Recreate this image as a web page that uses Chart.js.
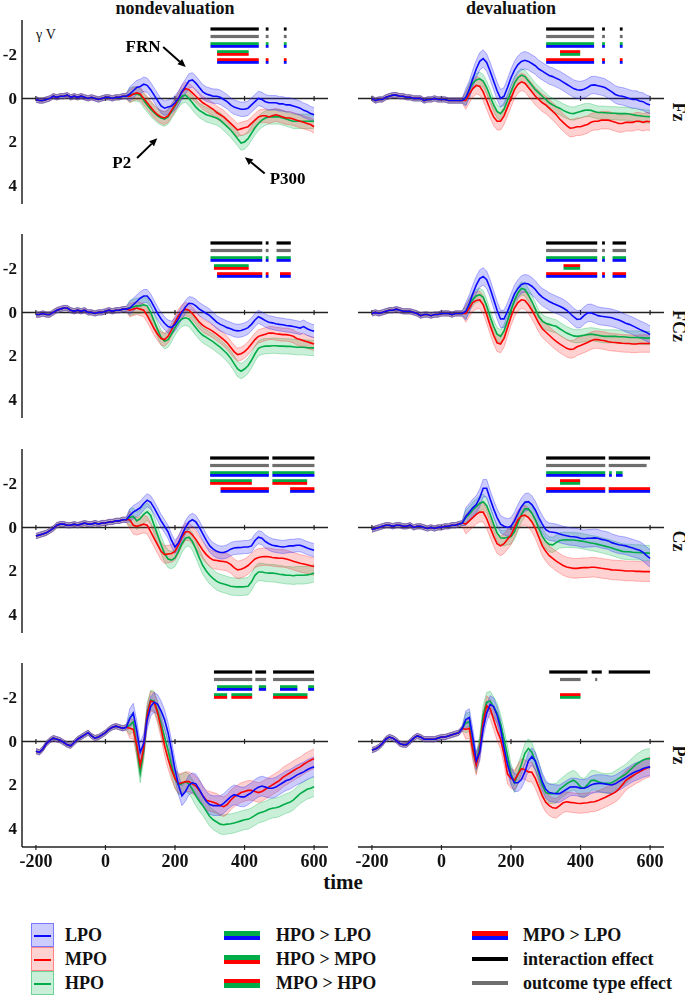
<!DOCTYPE html>
<html>
<head>
<meta charset="utf-8">
<script src="https://cdn.jsdelivr.net/npm/chart.js@4.4.1/dist/chart.umd.min.js"></script>
<style>
  body { margin: 0; background: #fff; }
  #page { position: relative; width: 685px; height: 996px; overflow: hidden;
          font-family: "Liberation Serif", "DejaVu Serif", serif; color: #111; }
  canvas { position: absolute; }
  .lbl { position: absolute; transform: translate(-50%, -50%); white-space: nowrap; font-weight: bold; }
  .rot { transform: translate(-50%, -50%) rotate(90deg); }
  .box { position: absolute; width: 23px; height: 24px; box-sizing: border-box; }
  .box span { position: absolute; left: 2px; right: 2px; top: 11px; height: 2px; }
  .sw { position: absolute; width: 36px; }
  .lt { position: absolute; font-weight: bold; font-size: 18px; transform: translateY(-50%); white-space: nowrap; }
</style>
</head>
<body>
<div id="page">
  <div class="lbl" style="left:175px;top:8px;font-size:18px">nondevaluation</div>
  <div class="lbl" style="left:511px;top:8px;font-size:18px">devaluation</div>
  <div class="lbl" style="left:46px;top:35px;font-size:14px;font-weight:normal">γ V</div>
  <div class="lbl" style="left:343px;top:882px;font-size:21px">time</div>
</div>
<script>
// time axis (ms), 10 ms steps
const times = [-200,-190,-180,-170,-160,-150,-140,-130,-120,-110,
  -100,-90,-80,-70,-60,-50,-40,-30,-20,-10,
  0,10,20,30,40,50,60,70,80,90,
  100,110,120,130,140,150,160,170,180,190,
  200,210,220,230,240,250,260,270,280,290,
  300,310,320,330,340,350,360,370,380,390,
  400,410,420,430,440,450,460,470,480,490,
  500,510,520,530,540,550,560,570,580,590,600];
const conditions = ['LPO', 'MPO', 'HPO'];
const electrodes = ['Fz', 'FCz', 'Cz', 'Pz'];
const xTicks = [-200, 0, 200, 400, 600];
const yTicks = [-2, 0, 2, 4];
const baselineSE = 0.12;

// ---- Fz ----
const fzNonPre = [0.05,0.1,0.1,0.05,0.0,-0.1,-0.05,-0.1,-0.1,-0.15, -0.05,-0.1,-0.05,-0.1,-0.05,0.0,-0.05,0.0,0.05,0.0, -0.05,-0.05,0.0,-0.05,-0.05,-0.1,-0.1];
const fzNonLPO = [-0.2,-0.35,-0.5,
  -0.55,-0.65,-0.6,-0.4,-0.15,0.1,0.35,0.45,0.4,0.35,
  0.2,0.0,-0.3,-0.55,-0.8,-0.85,-0.7,-0.5,-0.3,-0.2,
  -0.15,-0.1,-0.1,-0.05,0.05,0.15,0.3,0.4,0.45,0.5,
  0.5,0.45,0.3,0.15,0.0,0.05,0.15,0.2,0.2,0.2,
  0.25,0.25,0.3,0.3,0.35,0.4,0.45,0.55,0.6,0.7, 0.75];
const fzNonMPO = [-0.1,-0.2,-0.25,
  -0.2,0.0,0.2,0.4,0.6,0.75,0.85,0.9,0.8,0.55,
  0.3,0.0,-0.3,-0.45,-0.4,-0.25,-0.1,0.05,0.2,0.3,
  0.4,0.5,0.65,0.75,0.85,1.0,1.15,1.3,1.45,1.4,
  1.35,1.3,1.15,1.0,0.85,0.8,0.8,0.85,0.8,0.75,
  0.8,0.85,0.9,0.9,0.95,1.0,1.05,1.1,1.15,1.2, 1.3];
const fzNonHPO = [-0.15,-0.2,-0.2,
  -0.15,0.1,0.3,0.5,0.65,0.8,0.9,0.95,0.85,0.6,
  0.35,0.1,-0.1,-0.15,0.0,0.2,0.4,0.55,0.65,0.75,
  0.8,0.85,0.9,1.0,1.15,1.3,1.45,1.65,1.85,2.05,
  2.0,1.85,1.6,1.35,1.15,1.0,0.9,0.85,0.85,0.85,
  0.85,0.9,0.95,1.0,1.05,1.05,1.05,1.05,1.05,1.05, 1.05];
const fzNonSE = [0.33, 0.3, 0.33];

const fzDevPre = [0.0,0.1,0.05,0.05,-0.05,-0.1,-0.15,-0.15,-0.1,-0.1, -0.05,-0.05,0.0,0.0,0.0,0.1,0.05,0.05,0.0,0.05, 0.05,0.05,0.1,0.1,0.1,0.1,0.1];
const fzDevLPO = [-0.05,-0.4,-0.9,
  -1.35,-1.7,-1.83,-1.65,-1.25,-0.8,-0.35,0.0,-0.1,-0.5,
  -0.95,-1.3,-1.55,-1.7,-1.75,-1.7,-1.6,-1.5,-1.35,-1.25,
  -1.15,-1.05,-1.0,-0.92,-0.85,-0.75,-0.65,-0.55,-0.45,-0.4,
  -0.38,-0.42,-0.5,-0.6,-0.62,-0.58,-0.55,-0.5,-0.4,-0.3,
  -0.18,-0.12,-0.1,-0.05,0.0,0.05,0.05,0.12,0.15,0.25, 0.3];
const fzDevMPO = [0.1,-0.2,-0.45,
  -0.6,-0.55,-0.3,0.1,0.5,0.85,1.05,1.05,0.8,0.4,
  0.0,-0.4,-0.65,-0.76,-0.7,-0.5,-0.3,-0.1,0.05,0.2,
  0.3,0.45,0.6,0.75,0.95,1.1,1.25,1.37,1.35,1.3,
  1.3,1.25,1.2,1.1,1.05,1.05,1.0,1.0,1.0,1.05,
  1.1,1.15,1.15,1.1,1.1,1.1,1.05,1.05,1.1,1.05, 1.07];
const fzDevHPO = [0.0,-0.4,-0.7,
  -0.85,-0.9,-0.8,-0.5,-0.1,0.3,0.6,0.7,0.5,0.1,
  -0.3,-0.7,-0.95,-1.07,-1.0,-0.8,-0.6,-0.4,-0.25,-0.1,
  0.05,0.2,0.3,0.38,0.45,0.55,0.62,0.68,0.7,0.65,
  0.6,0.55,0.53,0.55,0.6,0.65,0.65,0.66,0.67,0.68,
  0.68,0.7,0.7,0.7,0.72,0.75,0.78,0.8,0.82,0.83, 0.84];
const fzDevSE = [0.4, 0.4, 0.3];

// ---- FCz ----
const fczNonPre = [0.1,0.1,0.05,0.1,0.1,0.0,-0.1,-0.15,-0.2,-0.2, -0.1,-0.05,-0.1,-0.05,-0.1,0.0,0.0,0.05,0.0,0.0, -0.05,-0.1,-0.05,-0.1,-0.1,-0.15,-0.15];
const fczNonLPO = [-0.2,-0.35,-0.5,
  -0.65,-0.75,-0.75,-0.55,-0.25,0.05,0.3,0.5,0.65,0.7,
  0.55,0.3,0.0,-0.25,-0.42,-0.4,-0.3,-0.15,-0.05,0.05,
  0.15,0.3,0.45,0.55,0.62,0.7,0.75,0.82,0.85,0.83,
  0.78,0.7,0.55,0.35,0.2,0.28,0.38,0.45,0.48,0.52,
  0.55,0.57,0.6,0.62,0.65,0.68,0.72,0.65,0.75,0.82, 0.87];
const fczNonMPO = [-0.1,-0.15,-0.2,
  -0.15,-0.1,0.15,0.45,0.75,1.0,1.2,1.25,1.1,0.8,
  0.45,0.15,-0.05,-0.15,-0.1,0.05,0.25,0.45,0.6,0.7,
  0.78,0.88,1.0,1.12,1.25,1.4,1.6,1.8,1.94,1.9,
  1.8,1.65,1.45,1.25,1.1,1.05,1.0,0.95,0.95,0.98,
  1.0,1.02,1.02,1.05,1.1,1.2,1.25,1.3,1.35,1.4, 1.45];
const fczNonHPO = [-0.2,-0.25,-0.3,
  -0.3,-0.35,-0.3,0.0,0.4,0.8,1.15,1.33,1.25,1.0,
  0.7,0.45,0.3,0.25,0.3,0.5,0.7,0.9,1.05,1.15,
  1.25,1.35,1.48,1.6,1.75,1.9,2.1,2.35,2.6,2.7,
  2.6,2.45,2.2,1.9,1.65,1.58,1.55,1.55,1.53,1.53,
  1.55,1.55,1.56,1.56,1.58,1.6,1.6,1.6,1.62,1.63, 1.63];
const fczNonSE = [0.3, 0.3, 0.35];

const fczDevPre = [0.05,0.0,0.05,0.0,-0.05,-0.1,-0.1,-0.15,-0.1,-0.05, -0.05,-0.05,0.0,0.05,0.15,0.1,0.1,0.15,0.1,0.1, 0.05,0.05,0.05,0.1,0.05,0.05,0.05];
const fczDevLPO = [-0.05,-0.4,-0.85,
  -1.25,-1.55,-1.65,-1.5,-1.1,-0.6,-0.1,0.3,0.3,-0.05,
  -0.45,-0.85,-1.1,-1.28,-1.34,-1.3,-1.2,-1.05,-0.85,-0.7,
  -0.6,-0.5,-0.42,-0.35,-0.28,-0.2,-0.1,0.05,0.2,0.32,
  0.3,0.15,0.03,0.02,0.08,0.15,0.18,0.2,0.22,0.25,
  0.3,0.35,0.42,0.5,0.55,0.62,0.7,0.78,0.85,0.92, 1.02];
const fczDevMPO = [0.05,-0.2,-0.45,
  -0.55,-0.58,-0.35,0.1,0.6,1.05,1.4,1.45,1.2,0.7,
  0.2,-0.2,-0.45,-0.58,-0.55,-0.35,-0.1,0.2,0.5,0.75,
  0.9,1.05,1.2,1.33,1.45,1.55,1.65,1.7,1.68,1.58,
  1.52,1.45,1.38,1.3,1.25,1.25,1.28,1.3,1.35,1.37,
  1.38,1.4,1.42,1.43,1.43,1.45,1.45,1.43,1.43,1.43, 1.43];
const fczDevHPO = [0.0,-0.35,-0.6,
  -0.75,-0.81,-0.7,-0.3,0.2,0.65,1.0,1.1,0.85,0.4,
  -0.1,-0.55,-0.9,-1.1,-1.05,-0.8,-0.5,-0.15,0.2,0.4,
  0.5,0.55,0.6,0.64,0.75,0.85,0.95,1.02,1.08,1.1,
  1.08,1.05,1.02,1.0,1.02,1.05,1.08,1.1,1.1,1.1,
  1.1,1.12,1.12,1.13,1.15,1.15,1.15,1.16,1.17,1.18, 1.18];
const fczDevSE = [0.4, 0.4, 0.3];

// ---- Cz ----
const czNonPre = [0.4,0.35,0.3,0.25,0.15,0.05,-0.1,-0.15,-0.15,-0.1, -0.1,-0.15,-0.1,-0.15,-0.2,-0.15,-0.15,-0.2,-0.15,-0.2, -0.2,-0.25,-0.25,-0.3,-0.3,-0.35,-0.35];
const czNonLPO = [-0.55,-0.7,-0.8,
  -0.9,-1.1,-1.25,-1.15,-0.9,-0.6,-0.3,-0.05,0.2,0.6,
  0.9,0.7,0.35,0.0,-0.25,-0.35,-0.25,0.0,0.3,0.6,
  0.85,1.0,1.1,1.15,1.15,1.1,1.0,0.95,0.93,0.92,
  0.9,0.9,0.85,0.6,0.45,0.5,0.65,0.75,0.82,0.85,
  0.88,0.9,0.88,0.85,0.85,0.82,0.82,0.88,0.95,1.0, 1.05];
const czNonMPO = [-0.35,-0.1,-0.05,
  -0.1,-0.15,-0.1,0.2,0.5,0.8,1.1,1.25,1.22,1.2,
  1.1,0.8,0.45,0.2,0.2,0.35,0.55,0.8,1.05,1.25,
  1.4,1.5,1.52,1.55,1.57,1.6,1.7,1.85,1.95,1.92,
  1.85,1.75,1.6,1.45,1.38,1.35,1.34,1.35,1.38,1.4,
  1.42,1.42,1.45,1.5,1.55,1.6,1.65,1.68,1.72,1.76, 1.8];
const czNonHPO = [-0.45,-0.5,-0.3,
  -0.4,-0.6,-0.72,-0.55,-0.1,0.35,0.8,1.2,1.45,1.5,
  1.4,1.1,0.75,0.5,0.45,0.65,1.0,1.4,1.75,2.0,
  2.2,2.35,2.48,2.55,2.6,2.65,2.7,2.72,2.73,2.73,
  2.72,2.7,2.5,2.2,2.05,2.05,2.08,2.1,2.1,2.12,
  2.15,2.17,2.2,2.2,2.22,2.2,2.2,2.2,2.18,2.15, 2.1];
const czNonSE = [0.3, 0.4, 0.4];

const czDevPre = [0.1,0.05,0.0,-0.05,-0.1,-0.1,-0.05,-0.1,-0.1,-0.05, -0.05,-0.1,0.0,-0.05,-0.05,0.0,0.05,0.0,0.05,0.0, 0.0,-0.05,-0.05,-0.1,-0.1,-0.15,-0.2];
const czDevLPO = [-0.5,-0.7,-0.9,
  -1.05,-1.35,-1.8,-1.8,-1.3,-0.85,-0.45,-0.15,-0.05,0.0,
  -0.05,-0.3,-0.65,-0.95,-1.15,-1.18,-1.05,-0.8,-0.45,-0.15,
  0.1,0.2,0.22,0.25,0.3,0.35,0.38,0.42,0.43,0.45,
  0.5,0.52,0.5,0.5,0.48,0.5,0.55,0.58,0.62,0.7,
  0.75,0.8,0.82,0.85,0.9,0.95,1.0,1.05,1.15,1.3, 1.42];
const czDevMPO = [-0.15,-0.3,-0.45,
  -0.6,-0.7,-0.7,-0.4,0.0,0.4,0.75,0.85,0.75,0.55,
  0.35,0.0,-0.35,-0.52,-0.56,-0.45,-0.25,0.05,0.45,0.85,
  1.1,1.3,1.42,1.55,1.65,1.75,1.82,1.85,1.88,1.88,
  1.86,1.85,1.85,1.83,1.83,1.85,1.88,1.9,1.92,1.95,
  1.96,1.97,1.98,2.0,2.0,2.0,2.02,2.02,2.03,2.03, 2.03];
const czDevHPO = [-0.45,-0.6,-0.8,
  -0.95,-1.1,-1.18,-1.0,-0.6,-0.15,0.25,0.48,0.5,0.45,
  0.42,0.2,-0.2,-0.6,-0.85,-0.85,-0.65,-0.35,0.05,0.4,
  0.65,0.78,0.8,0.7,0.6,0.58,0.57,0.58,0.58,0.6,
  0.62,0.65,0.68,0.72,0.74,0.78,0.82,0.86,0.9,0.95,
  1.0,1.05,1.1,1.12,1.12,1.14,1.15,1.15,1.17,1.18, 1.19];
const czDevSE = [0.4, 0.45, 0.35];

// ---- Pz ----
const pzNonPre = [0.45,0.5,0.35,0.1,-0.05,-0.15,-0.1,-0.05,0.05,0.15, 0.2,0.05,-0.1,-0.2,-0.3,-0.4,-0.25,-0.15,-0.2,-0.3, -0.4,-0.55,-0.65,-0.7,-0.65,-0.6,-0.65];
const pzNonLPO = [-1.05,-1.3,-0.5,
  0.5,0.1,-1.0,-1.6,-1.8,-1.7,-1.4,-1.0,-0.4,0.4,
  1.3,2.0,2.5,2.3,2.0,1.9,1.95,2.2,2.5,2.75,
  2.9,2.95,2.95,2.95,2.85,2.7,2.55,2.45,2.5,2.55,
  2.55,2.45,2.35,2.2,2.1,2.05,2.1,2.15,2.15,2.1,
  2.0,1.9,1.8,1.75,1.65,1.55,1.47,1.4,1.3,1.22, 1.17];
const pzNonMPO = [-0.6,-0.55,0.2,
  1.1,0.3,-1.2,-1.85,-1.8,-1.3,-0.6,0.2,0.8,1.3,
  1.7,1.95,1.9,1.85,1.85,1.95,2.05,2.25,2.5,2.7,
  2.75,2.8,2.85,2.95,3.0,2.9,2.7,2.55,2.45,2.35,
  2.3,2.25,2.25,2.3,2.35,2.3,2.2,2.1,2.0,1.9,
  1.8,1.65,1.55,1.45,1.35,1.25,1.17,1.05,0.95,0.87, 0.79];
const pzNonHPO = [-0.75,-0.9,0.3,
  1.45,0.4,-1.3,-1.9,-1.85,-1.4,-0.8,-0.2,0.4,1.1,
  1.7,2.0,1.95,1.85,1.95,2.2,2.5,2.75,2.95,3.2,
  3.45,3.6,3.7,3.8,3.83,3.8,3.78,3.75,3.7,3.65,
  3.6,3.58,3.5,3.4,3.3,3.25,3.2,3.12,3.07,3.05,
  3.0,2.92,2.85,2.8,2.7,2.55,2.4,2.3,2.2,2.15, 2.08];
const pzNonSE = [0.45, 0.45, 0.45];

const pzDevPre = [0.4,0.35,0.25,0.1,-0.1,-0.2,-0.15,-0.05,0.1,0.15, 0.15,0.0,-0.15,-0.25,-0.2,-0.1,-0.1,-0.1,-0.1,-0.15, -0.2,-0.2,-0.25,-0.3,-0.35,-0.4,-0.6];
const pzDevLPO = [-1.0,-1.1,-0.2,
  0.9,0.5,-0.6,-1.3,-1.7,-1.6,-1.2,-0.6,0.3,1.05,
  1.6,1.9,1.9,1.75,1.4,0.9,0.7,0.9,1.35,1.85,
  2.2,2.35,2.38,2.4,2.4,2.3,2.2,2.1,2.08,2.1,
  2.15,2.15,2.1,2.0,1.95,1.93,1.93,1.95,1.98,2.0,
  1.95,1.85,1.75,1.65,1.55,1.45,1.38,1.32,1.25,1.2, 1.17];
const pzDevMPO = [-0.55,-0.6,0.4,
  1.1,0.4,-0.9,-1.64,-1.5,-1.0,-0.5,-0.1,0.6,1.5,
  1.7,1.78,1.5,1.25,1.3,1.4,1.42,1.7,2.1,2.5,
  2.8,2.95,3.05,3.07,2.95,2.82,2.77,2.8,2.82,2.84,
  2.85,2.83,2.82,2.78,2.77,2.72,2.65,2.58,2.5,2.42,
  2.33,2.2,2.0,1.8,1.68,1.58,1.48,1.4,1.3,1.22, 1.17];
const pzDevHPO = [-0.85,-0.9,0.3,
  1.0,0.2,-1.2,-1.8,-1.85,-1.6,-1.3,-0.8,-0.1,0.65,
  1.5,1.9,1.5,1.05,0.55,0.33,0.5,0.95,1.45,2.0,
  2.35,2.4,2.4,2.38,2.2,2.08,1.95,1.85,1.78,1.9,
  2.1,2.15,2.0,1.8,1.78,1.85,1.9,1.93,1.93,1.9,
  1.8,1.7,1.6,1.5,1.35,1.2,1.05,0.95,0.85,0.8, 0.79];
const pzDevSE = [0.4, 0.45, 0.45];

// significant time windows (ms)
const fzNonSig = [
  ['interaction', [[302,441],[461,469],[513,521]]],
  ['outcome', [[302,441],[461,469],[513,521]]],
  ['HPO>LPO', [[302,441],[461,469],[513,521]]],
  ['HPO>MPO', [[321,412]]],
  ['MPO>LPO', [[321,441],[461,469],[513,521]]]
];
const fzDevSig = [
  ['interaction', [[301,439],[462,470],[513,521]]],
  ['outcome', [[301,439],[462,470],[513,521]]],
  ['HPO>LPO', [[301,439],[462,470],[513,521]]],
  ['MPO>HPO', [[341,399]]],
  ['MPO>LPO', [[301,439],[462,470],[513,521]]]
];
const fczNonSig = [
  ['interaction', [[302,451],[461,469],[492,533]]],
  ['outcome', [[302,451],[461,469],[492,533]]],
  ['HPO>LPO', [[302,451],[461,469],[492,533]]],
  ['HPO>MPO', [[312,412]]],
  ['MPO>LPO', [[321,451],[461,469],[502,533]]]
];
const fczDevSig = [
  ['interaction', [[301,448],[462,470],[492,531]]],
  ['outcome', [[301,448],[462,470],[492,531]]],
  ['HPO>LPO', [[301,448],[462,470],[492,531]]],
  ['MPO>HPO', [[351,399]]],
  ['MPO>LPO', [[301,448],[462,470],[492,531]]]
];
const czNonSig = [
  ['interaction', [[301,470],[480,601]]],
  ['outcome', [[301,470],[480,601]]],
  ['HPO>LPO', [[301,470],[480,601]]],
  ['HPO>MPO', [[301,421],[480,580]]],
  ['MPO>LPO', [[331,470],[531,601]]]
];
const czDevSig = [
  ['interaction', [[301,471],[481,600]]],
  ['outcome', [[301,471],[481,590]]],
  ['HPO>LPO', [[301,471],[482,490],[502,521]]],
  ['MPO>HPO', [[341,399]]],
  ['MPO>LPO', [[301,471],[481,600]]]
];
const pzNonSig = [
  ['interaction', [[312,422],[431,462],[482,600]]],
  ['outcome', [[312,422],[431,462],[482,600]]],
  ['HPO>LPO', [[321,422],[441,462],[502,552],[583,600]]],
  ['HPO>MPO', [[312,350],[362,422],[482,581]]]
];
const pzDevSig = [
  ['interaction', [[310,420],[432,461],[481,600]]],
  ['outcome', [[341,400],[442,448]]],
  ['MPO>HPO', [[341,400]]]
];

// component labels on Fz / nondevaluation: text position, arrow tail, arrow head (ms, µV)
const annotations = [
  { text: 'FRN', at: [108, -2.31], from: [166, -2.36], to: [231, -1.44] },
  { text: 'P2', at: [47, 2.98], from: [91, 2.74], to: [149, 1.83] },
  { text: 'P300', at: [524, 3.74], from: [458, 3.45], to: [401, 2.70] }
];

const BLUE = 'rgb(10,10,255)', RED = 'rgb(255,0,0)', GREEN = 'rgb(0,172,72)';
const lineColors = [BLUE, RED, GREEN];
const bandColors = ['rgba(40,40,255,0.24)', 'rgba(255,40,40,0.21)', 'rgba(0,180,70,0.21)'];
const edgeColors = ['rgba(40,40,255,0.5)', 'rgba(255,40,40,0.45)', 'rgba(0,180,70,0.45)'];

const effectStyle = {
  'interaction': { row: 0, colors: ['#000'] },
  'outcome': { row: 1, colors: ['#6e6e6e'] },
  'HPO>LPO': { row: 2, colors: [GREEN, BLUE] },
  'HPO>MPO': { row: 3, colors: [GREEN, RED] },
  'MPO>HPO': { row: 3, colors: [RED, GREEN] },
  'MPO>LPO': { row: 4, colors: [RED, BLUE] }
};
const sigRowOffset = [9, 16.5, 25, 33, 41];

const chartTops = [20, 234, 449, 663];
const chartH = 184;
const SERIF = '"Liberation Serif", "DejaVu Serif", serif';

const panels = [
  { row: 0, col: 0, pre: fzNonPre, post: [fzNonLPO, fzNonMPO, fzNonHPO], se: fzNonSE, sig: fzNonSig, notes: annotations },
  { row: 0, col: 1, pre: fzDevPre, post: [fzDevLPO, fzDevMPO, fzDevHPO], se: fzDevSE, sig: fzDevSig },
  { row: 1, col: 0, pre: fczNonPre, post: [fczNonLPO, fczNonMPO, fczNonHPO], se: fczNonSE, sig: fczNonSig },
  { row: 1, col: 1, pre: fczDevPre, post: [fczDevLPO, fczDevMPO, fczDevHPO], se: fczDevSE, sig: fczDevSig },
  { row: 2, col: 0, pre: czNonPre, post: [czNonLPO, czNonMPO, czNonHPO], se: czNonSE, sig: czNonSig },
  { row: 2, col: 1, pre: czDevPre, post: [czDevLPO, czDevMPO, czDevHPO], se: czDevSE, sig: czDevSig },
  { row: 3, col: 0, pre: pzNonPre, post: [pzNonLPO, pzNonMPO, pzNonHPO], se: pzNonSE, sig: pzNonSig },
  { row: 3, col: 1, pre: pzDevPre, post: [pzDevLPO, pzDevMPO, pzDevHPO], se: pzDevSE, sig: pzDevSig }
];

function arrow(ctx, x1, y1, x2, y2) {
  const a = Math.atan2(y2 - y1, x2 - x1), L = 8, W = 3.5;
  const bx = x2 - L * Math.cos(a), by = y2 - L * Math.sin(a);
  ctx.beginPath(); ctx.moveTo(x1, y1); ctx.lineTo(bx, by); ctx.stroke();
  ctx.beginPath();
  ctx.moveTo(x2, y2);
  ctx.lineTo(bx + W * Math.sin(a), by - W * Math.cos(a));
  ctx.lineTo(bx - W * Math.sin(a), by + W * Math.cos(a));
  ctx.closePath(); ctx.fill();
}

const erpPlugin = {
  id: 'erp',
  beforeDatasetsDraw(chart, args, opts) {
    const { ctx, chartArea: a, scales: { x, y } } = chart;
    ctx.save();
    ctx.strokeStyle = '#222';
    ctx.fillStyle = '#111';
    // zero line with ticks
    const y0 = y.getPixelForValue(0);
    ctx.lineWidth = 1.5;
    ctx.beginPath(); ctx.moveTo(a.left, y0); ctx.lineTo(a.right, y0); ctx.stroke();
    ctx.lineWidth = 1.2;
    xTicks.forEach(t => {
      const px = x.getPixelForValue(t);
      ctx.beginPath(); ctx.moveTo(px, y0 - 2.5); ctx.lineTo(px, y0 + 2.5); ctx.stroke();
    });
    if (opts.yAxis) {
      ctx.lineWidth = 1.5;
      ctx.beginPath(); ctx.moveTo(a.left, a.top); ctx.lineTo(a.left, a.bottom); ctx.stroke();
      ctx.font = 'bold 17px ' + SERIF;
      ctx.textAlign = 'right'; ctx.textBaseline = 'middle';
      yTicks.forEach(v => ctx.fillText(String(v), a.left - 5, y.getPixelForValue(v) + 1));
    }
    if (opts.xAxis) {
      ctx.lineWidth = 1.5;
      ctx.beginPath(); ctx.moveTo(a.left, a.bottom); ctx.lineTo(a.right, a.bottom); ctx.stroke();
      ctx.lineWidth = 1.2;
      ctx.font = 'bold 18px ' + SERIF;
      ctx.textAlign = 'center'; ctx.textBaseline = 'middle';
      xTicks.forEach(t => {
        const px = x.getPixelForValue(t);
        ctx.beginPath(); ctx.moveTo(px, a.bottom - 2); ctx.lineTo(px, a.bottom + 3); ctx.stroke();
        ctx.fillText(String(t), px, a.bottom + 15);
      });
    }
    ctx.restore();
  },
  afterDatasetsDraw(chart, args, opts) {
    const { ctx, chartArea: a, scales: { x, y } } = chart;
    ctx.save();
    (opts.sig || []).forEach(([effect, spans]) => {
      const st = effectStyle[effect];
      const yc = a.top + sigRowOffset[st.row];
      spans.forEach(([t1, t2]) => {
        const x1 = x.getPixelForValue(t1), w = x.getPixelForValue(t2) - x1;
        if (st.colors.length === 1) {
          ctx.fillStyle = st.colors[0];
          ctx.fillRect(x1, yc - 1.6, w, 3.2);
        } else {
          ctx.fillStyle = st.colors[0];
          ctx.fillRect(x1, yc - 2.8, w, 2.8);
          ctx.fillStyle = st.colors[1];
          ctx.fillRect(x1, yc, w, 2.8);
        }
      });
    });
    (opts.notes || []).forEach(n => {
      ctx.strokeStyle = '#000'; ctx.fillStyle = '#000'; ctx.lineWidth = 2;
      arrow(ctx, x.getPixelForValue(n.from[0]), y.getPixelForValue(n.from[1]),
                 x.getPixelForValue(n.to[0]), y.getPixelForValue(n.to[1]));
      ctx.font = 'bold 17px ' + SERIF;
      ctx.textAlign = 'center'; ctx.textBaseline = 'middle';
      ctx.fillText(n.text, x.getPixelForValue(n.at[0]), y.getPixelForValue(n.at[1]));
    });
    ctx.restore();
  }
};

const page = document.getElementById('page');

panels.forEach(p => {
  const left = p.col === 0 ? 0 : 352;
  const width = p.col === 0 ? 330 : 314;
  const padBottom = p.row === 3 ? 36 : 4;
  const top = chartTops[p.row] - 4;
  const height = chartH + 4 + padBottom;
  const cv = document.createElement('canvas');
  cv.width = width; cv.height = height;
  cv.style.left = left + 'px'; cv.style.top = top + 'px';
  cv.style.width = width + 'px'; cv.style.height = height + 'px';
  page.appendChild(cv);

  const lines = [], bands = [];
  conditions.forEach((c, k) => {
    const vals = p.pre.concat(p.post[k]);
    const se = times.map(t => t < 70 ? baselineSE : p.se[k]);
    lines.push({
      label: c, data: times.map((t, i) => ({ x: t, y: vals[i] })),
      borderColor: lineColors[k], borderWidth: 1.6, pointRadius: 0, fill: false, order: 0
    });
    bands.push({
      data: times.map((t, i) => ({ x: t, y: vals[i] - se[i] })),
      borderColor: edgeColors[k], borderWidth: 0.7, backgroundColor: bandColors[k],
      pointRadius: 0, fill: '+1', order: 1
    });
    bands.push({
      data: times.map((t, i) => ({ x: t, y: vals[i] + se[i] })),
      borderColor: edgeColors[k], borderWidth: 0.7, pointRadius: 0, fill: false, order: 1
    });
  });

  new Chart(cv, {
    type: 'line',
    data: { datasets: lines.concat(bands) },
    options: {
      responsive: false, animation: false, devicePixelRatio: 1, events: [],
      layout: { padding: { left: p.col === 0 ? 22 : 6, right: 2, top: 4, bottom: padBottom } },
      elements: { line: { tension: 0 } },
      scales: {
        x: { type: 'linear', min: -240, max: 640, display: false },
        y: { type: 'linear', min: -3.6, max: 4.85, reverse: true, display: false }
      },
      plugins: {
        legend: { display: false }, tooltip: { enabled: false },
        erp: { yAxis: p.col === 0, xAxis: p.row === 3, sig: p.sig, notes: p.notes }
      }
    },
    plugins: [erpPlugin]
  });
});

// electrode labels on the right
electrodes.forEach((e, r) => {
  const d = document.createElement('div');
  d.className = 'lbl rot';
  d.style.left = '678px';
  d.style.top = (chartTops[r] + 92) + 'px';
  d.style.fontSize = '18px';
  d.textContent = e;
  page.appendChild(d);
});

// legend
const legendRowsY = [935, 959, 983];
const legendMid = [['HPO > LPO', GREEN, BLUE], ['HPO > MPO', GREEN, RED], ['MPO > HPO', RED, GREEN]];
const legendRight = [['MPO > LPO', RED, BLUE], ['interaction effect', '#000'], ['outcome type effect', '#6e6e6e']];

conditions.forEach((c, k) => {
  const b = document.createElement('div');
  b.className = 'box';
  b.style.left = '31px'; b.style.top = (legendRowsY[k] - 12) + 'px';
  b.style.background = bandColors[k];
  b.style.border = '1.5px solid ' + edgeColors[k];
  const s = document.createElement('span');
  s.style.background = lineColors[k];
  b.appendChild(s);
  page.appendChild(b);
  const t = document.createElement('div');
  t.className = 'lt'; t.style.left = '65px'; t.style.top = legendRowsY[k] + 'px';
  t.textContent = c;
  page.appendChild(t);
});

function swatchRow(items, sx, tx) {
  items.forEach(([label, c1, c2], k) => {
    const s = document.createElement('div');
    s.className = 'sw';
    s.style.left = sx + 'px';
    if (c2) {
      s.style.height = '9px';
      s.style.top = (legendRowsY[k] - 4.5) + 'px';
      s.style.background = 'linear-gradient(to bottom, ' + c1 + ' 50%, ' + c2 + ' 50%)';
    } else {
      s.style.height = '4px';
      s.style.top = (legendRowsY[k] - 2) + 'px';
      s.style.background = c1;
    }
    page.appendChild(s);
    const t = document.createElement('div');
    t.className = 'lt'; t.style.left = tx + 'px'; t.style.top = legendRowsY[k] + 'px';
    t.textContent = label;
    page.appendChild(t);
  });
}
swatchRow(legendMid, 224, 276);
swatchRow(legendRight, 472, 523);
</script>
</body>
</html>
